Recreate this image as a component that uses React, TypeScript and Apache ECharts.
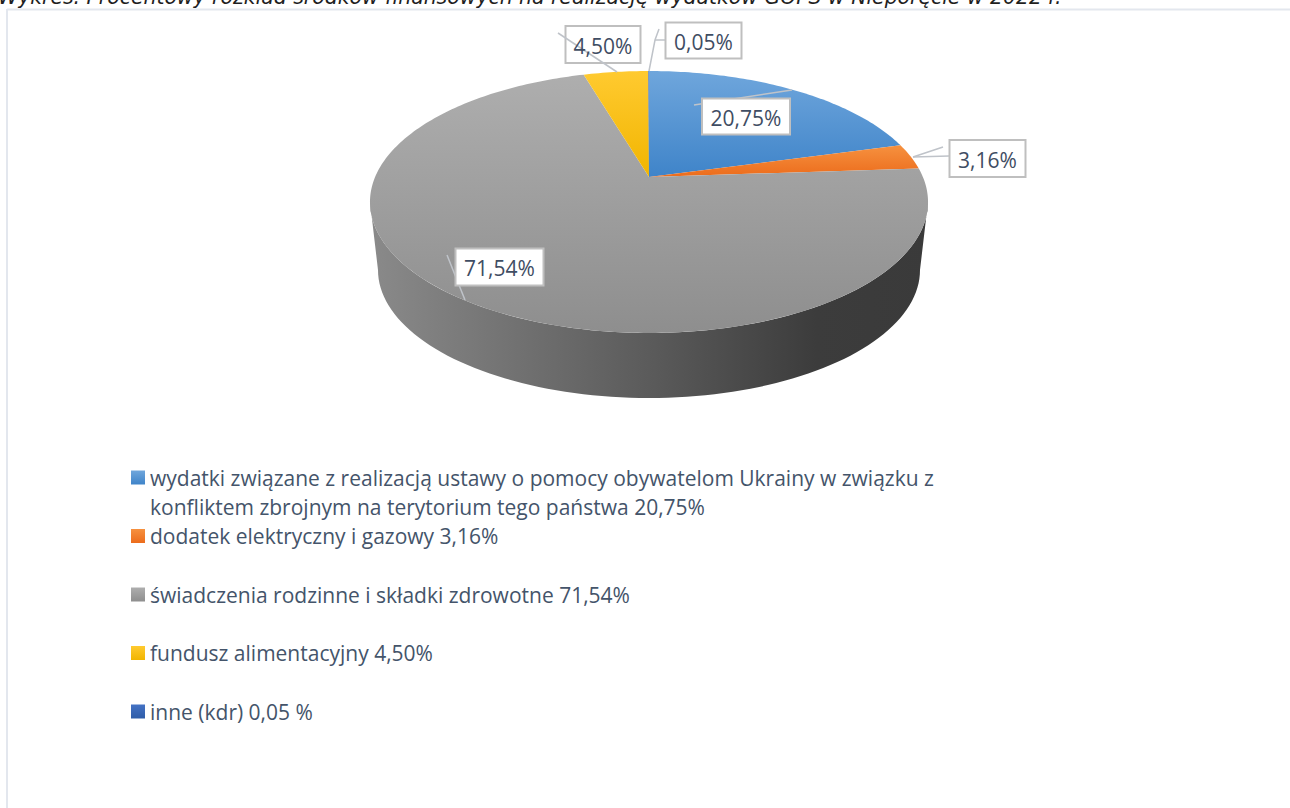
import React, { useEffect, useRef } from "react";
import * as echarts from "echarts";

const titleText = "Wykres. Procentowy rozkład środków finansowych na realizację wydatków GOPS w Nieporęcie w 2022 r.";
const sliceValues = [20.75, 3.16, 71.54, 4.5, 0.05];
const legendLabels = [
  "wydatki związane z realizacją ustawy o pomocy obywatelom Ukrainy w związku z\nkonfliktem zbrojnym na terytorium tego państwa 20,75%",
  "dodatek elektryczny i gazowy 3,16%",
  "świadczenia rodzinne i składki zdrowotne 71,54%",
  "fundusz alimentacyjny 4,50%",
  "inne (kdr) 0,05 %",
];

const sliceGradients = [
  ["#6fa6dc", "#3f84c9"],
  ["#f6913f", "#ec6c1c"],
  ["#aeaeae", "#8e8e8e"],
  ["#ffca30", "#f1b500"],
  ["#4472c4", "#2f5da8"],
];
const labelBoxes = [
  { x: 702, y: 98.5, w: 88, h: 36 },
  { x: 949.5, y: 140, w: 76, h: 37 },
  { x: 455.5, y: 248.5, w: 88, h: 37 },
  { x: 565.5, y: 26, w: 75, h: 37 },
  { x: 665.5, y: 22.5, w: 76, h: 36 },
];
const leaderLines = [
  [[[694, 105], [792, 90]]],
  [[[913, 157], [943, 147]], [[913, 157], [949, 156]]],
  [[[447, 255], [465, 300]]],
  [[[558, 33], [617, 72]]],
  [[[659, 29], [655, 40], [649, 71]], [[655, 40], [665, 40]]],
];
const leaderOverBox = [false, false, false, true, false];

const APEX = { x: 649, y: 177 };
const PERSPECTIVE = { a: 273.9, b: 126.2, k: 0.1908 };
const TOP_ELLIPSE = { cx: 649, cy: 202, rx: 279, ry: 131 };
const BOTTOM_ELLIPSE = { cx: 649, cy: 270, rx: 271, ry: 128 };

const total = sliceValues.reduce((s, v) => s + v, 0);
const cumulative = sliceValues.map((_, i) => sliceValues.slice(0, i).reduce((s, v) => s + v, 0));

function rimPoint(share: number) {
  const theta = (share / total) * Math.PI * 2;
  const u = Math.sin(theta);
  const v = Math.cos(theta);
  const w = 1 + PERSPECTIVE.k * v;
  return [APEX.x + (PERSPECTIVE.a * u) / w, APEX.y - (PERSPECTIVE.b * v) / w];
}

function slicePoints(start: number, value: number) {
  const pts = [[APEX.x, APEX.y]];
  const steps = Math.max(2, Math.ceil((value / total) * 360));
  for (let i = 0; i <= steps; i++) pts.push(rimPoint(start + (value * i) / steps));
  return pts;
}

function wallPoints() {
  const pts: number[][] = [];
  for (let d = 180; d >= 0; d -= 2) {
    const t = (d * Math.PI) / 180;
    pts.push([TOP_ELLIPSE.cx + TOP_ELLIPSE.rx * Math.cos(t), TOP_ELLIPSE.cy + TOP_ELLIPSE.ry * Math.sin(t)]);
  }
  for (let d = 0; d <= 180; d += 2) {
    const t = (d * Math.PI) / 180;
    pts.push([BOTTOM_ELLIPSE.cx + BOTTOM_ELLIPSE.rx * Math.cos(t), BOTTOM_ELLIPSE.cy + BOTTOM_ELLIPSE.ry * Math.sin(t)]);
  }
  return pts;
}

const vGrad = (c: string[]) => new echarts.graphic.LinearGradient(0, 0, 0, 1, [
  { offset: 0, color: c[0] },
  { offset: 1, color: c[1] },
]);
const wallGrad = () => new echarts.graphic.LinearGradient(0, 0, 1, 0, [
  { offset: 0, color: "#8a8a8a" },
  { offset: 0.5, color: "#5b5b5b" },
  { offset: 0.8, color: "#3c3c3c" },
  { offset: 1, color: "#3a3a3a" },
]);

const fmt = (v: number) => v.toFixed(2).replace(".", ",") + "%";
const LEGEND_FONT = "Open Sans";
const LABEL_COLOR = "#3f4d63";
const LEGEND_COLOR = "#44546a";

export default function App() {
  const ref = useRef<HTMLDivElement>(null);
  useEffect(() => {
    document.body.style.margin = "0";
    document.body.style.overflow = "hidden";
    const chart = echarts.init(ref.current!, undefined, { renderer: "svg" });
    const sliceSeries = sliceValues.map((val, i) => ({
      type: "custom",
      name: legendLabels[i],
      coordinateSystem: "none",
      silent: true,
      z: 2,
      data: [[val]],
      itemStyle: { color: sliceGradients[i][0] },
      renderItem: (_p: any, api: any) => {
        const value = api.value(0);
        const children: any[] = [];
        if (value / total > 0.5) {
          children.push({
            type: "polygon",
            shape: { points: wallPoints() },
            style: { fill: wallGrad() },
          });
        }
        children.push({
          type: "polygon",
          shape: { points: slicePoints(cumulative[i], value) },
          style: { fill: vGrad(sliceGradients[i]) },
        });
        return { type: "group", children };
      },
    }));
    const labelSeries = {
      type: "custom",
      name: "labels",
      coordinateSystem: "none",
      silent: true,
      z: 5,
      data: sliceValues.map((v) => [v]),
      renderItem: (p: any, api: any) => {
        const i = p.dataIndex;
        const box = labelBoxes[i];
        const lines = leaderLines[i].map((points) => ({
          type: "polyline",
          shape: { points },
          style: { stroke: "#bfc3c9", lineWidth: 1.5, fill: "none" },
        }));
        const rect = {
          type: "rect",
          shape: { x: box.x, y: box.y, width: box.w, height: box.h },
          style: { fill: "#ffffff", stroke: "#bfbfbf", lineWidth: 2 },
        };
        const text = {
          type: "text",
          style: {
            text: fmt(api.value(0)),
            x: box.x + box.w / 2,
            y: box.y + box.h / 2 + 1,
            align: "center",
            verticalAlign: "middle",
            fill: LABEL_COLOR,
            font: `21px "${LEGEND_FONT}"`,
          },
        };
        const children = leaderOverBox[i] ? [rect, ...lines, text] : [...lines, rect, text];
        return { type: "group", children };
      },
    };
    chart.setOption({
      animation: false,
      backgroundColor: "#ffffff",
      legend: {
        orient: "vertical",
        left: 126,
        top: 460.5,
        itemWidth: 14,
        itemHeight: 14,
        itemGap: 34.5,
        selectedMode: false,
        icon: "rect",
        data: legendLabels.map((name, i) => ({ name, itemStyle: { color: vGrad(sliceGradients[i]) } })),
        formatter: (name: string) => name.split("\n")[0],
        textStyle: {
          color: LEGEND_COLOR,
          fontFamily: LEGEND_FONT,
          fontSize: 21,
          lineHeight: 24,
        },
      },
      graphic: [
        {
          type: "line",
          silent: true,
          shape: { x1: 7, y1: 9.5, x2: 1290, y2: 9.5 },
          style: { stroke: "#e3e7ee", lineWidth: 2 },
        },
        {
          type: "line",
          silent: true,
          shape: { x1: 7, y1: 9, x2: 7, y2: 808 },
          style: { stroke: "#e3e7ee", lineWidth: 2 },
        },
        {
          type: "text",
          silent: true,
          style: {
            text: titleText,
            x: -2,
            y: 7,
            verticalAlign: "bottom",
            fill: "#1f1f1f",
            font: `italic 20.4px "DejaVu Sans"`,
          },
        },
        {
          type: "text",
          silent: true,
          style: {
            text: legendLabels[0].split("\n")[1],
            x: 150,
            y: 507,
            verticalAlign: "middle",
            fill: LEGEND_COLOR,
            font: `21px "${LEGEND_FONT}"`,
          },
        },
      ],
      series: [...sliceSeries, labelSeries],
    });
    return () => chart.dispose();
  }, []);
  return <div ref={ref} style={{ width: 1290, height: 808 }} />;
}
